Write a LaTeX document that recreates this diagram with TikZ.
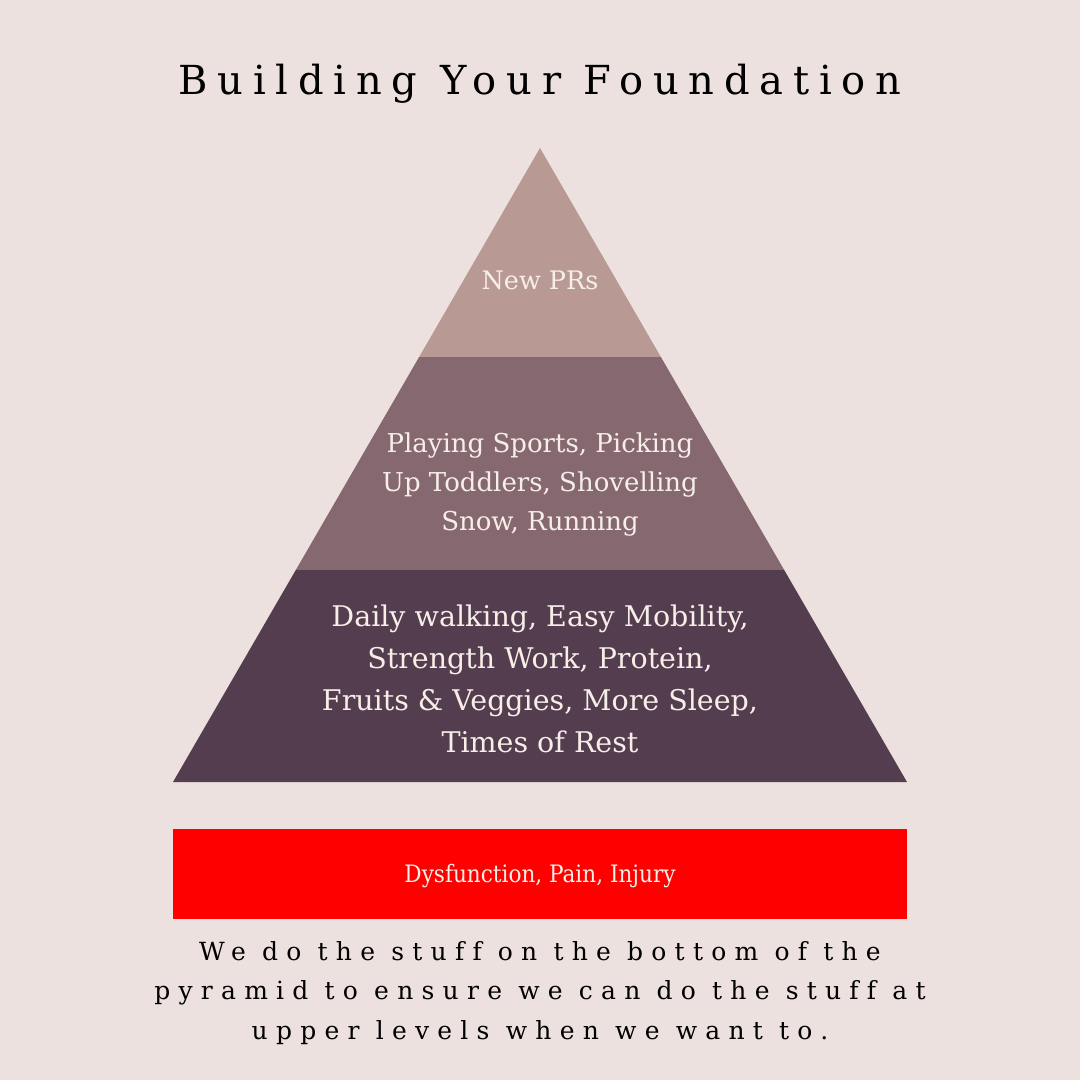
\documentclass[tikz,border=0pt]{standalone}
\usepackage{fontspec}
\setmainfont{DejaVu Serif}
\newfontfamily\spaced[LetterSpace=24.5,Ligatures=NoCommon]{DejaVu Serif}
\newfontfamily\spacedb[LetterSpace=33,Ligatures=NoCommon]{DejaVu Serif}
\newfontfamily\condensed{DejaVu Serif Condensed}
\definecolor{bg}{HTML}{EDE1DF}
\definecolor{tierA}{HTML}{B89994}
\definecolor{tierB}{HTML}{866970}
\definecolor{tierC}{HTML}{533D4F}
\definecolor{lighttext}{HTML}{F7EEE8}
\definecolor{alarm}{HTML}{FF0000}
\begin{document}
\begin{tikzpicture}[x=1pt,y=-1pt,
  tiertext/.style={text=lighttext,align=center,inner sep=0pt},
  bodytext/.style={text=black,align=center,inner sep=0pt}]
\fill[bg] (0,0) rectangle (1080,1080);
\useasboundingbox (0,0) rectangle (1080,1080);
% pyramid tiers
\coordinate (apex) at (540,148);
\coordinate (bl) at (173,782);
\coordinate (br) at (907,782);
\fill[tierA] (apex) -- (419.1,357) -- (660.9,357) -- cycle;
\fill[tierB] (419.1,357) -- (295.8,570) -- (784.2,570) -- (660.9,357) -- cycle;
\fill[tierC] (295.8,570) -- (bl) -- (br) -- (784.2,570) -- cycle;
% base box
\fill[alarm] (173,829) rectangle (907,919);
% texts
\node[bodytext,font=\spaced\fontsize{40}{48}\selectfont] (title) at (540,84) {Building Your Foundation};
\node[tiertext,font=\fontsize{25.5}{30}\selectfont] (top) at (540,280) {New PRs};
\node[tiertext,font=\fontsize{26}{39}\selectfont] (mid) at (540,485) {Playing Sports, Picking\\Up Toddlers, Shovelling\\Snow, Running};
\node[tiertext,font=\fontsize{28.5}{42}\selectfont] (low) at (540,679) {Daily walking, Easy Mobility,\\Strength Work, Protein,\\Fruits \& Veggies, More Sleep,\\Times of Rest};
\node[tiertext,font=\condensed\fontsize{24}{28}\selectfont] (base) at (540,876) {Dysfunction, Pain, Injury};
\node[bodytext,font=\spacedb\fontsize{25}{39.5}\selectfont] (note) at (540,993) {We do the stuff on the bottom of the\\pyramid to ensure we can do the stuff at\\upper levels when we want to.};
\end{tikzpicture}
\end{document}
